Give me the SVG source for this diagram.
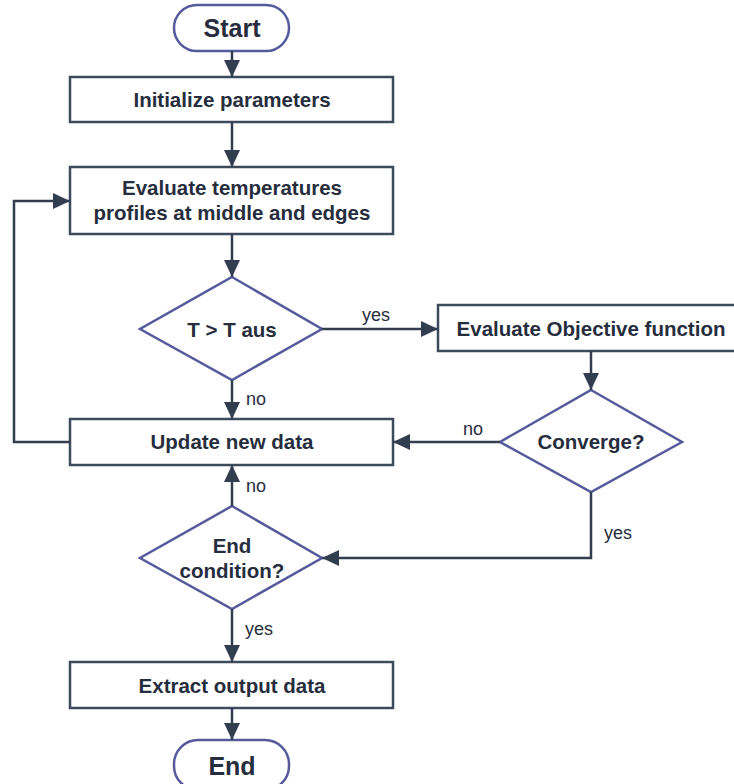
<svg xmlns="http://www.w3.org/2000/svg" width="734" height="784" viewBox="0 0 734 784">
<style>
.box{fill:#fff;stroke:#3d4a5c;stroke-width:2.5}
.term{fill:#fff;stroke:#565a9c;stroke-width:2.5}
.dia{fill:#fff;stroke:#565a9c;stroke-width:2.5}
.t{font-family:"Liberation Sans",Arial,sans-serif;font-weight:bold;font-size:20.5px;fill:#262d3d;text-anchor:middle}
.big{font-size:25px}
.lbl{font-family:"Liberation Sans",Arial,sans-serif;font-size:18px;fill:#262d3d}
.c{fill:none;stroke:#323e50;stroke-width:2.5}
</style>
<defs>
<marker id="ah" markerUnits="userSpaceOnUse" markerWidth="18" markerHeight="16" refX="17" refY="8" orient="auto">
<path d="M0,0 L17,8 L0,16 Z" fill="#323e50"/>
</marker>
</defs>
<g id="start"><rect class="term" x="174" y="5" width="115" height="46" rx="23"/><text class="t big" x="232" y="37">Start</text></g>
<g id="init"><rect class="box" x="70" y="77" width="323" height="45"/><text class="t" x="232" y="107">Initialize parameters</text></g>
<g id="evaltemp"><rect class="box" x="70" y="167" width="323" height="67"/><text class="t" x="232" y="195">Evaluate  temperatures</text><text class="t" x="232" y="220">profiles at middle and edges</text></g>
<g id="tdec"><polygon class="dia" points="232,277 322,329 232,380 140,329"/><text class="t" x="232" y="337">T &gt; T aus</text></g>
<g id="evalobj"><rect class="box" x="438" y="305" width="306" height="46"/><text class="t" x="591" y="336">Evaluate Objective function</text></g>
<g id="conv"><polygon class="dia" points="591,390 682,442 591,492 500,442"/><text class="t" x="591" y="449">Converge?</text></g>
<g id="update"><rect class="box" x="70" y="419" width="323" height="46"/><text class="t" x="232" y="449">Update new data</text></g>
<g id="endcond"><polygon class="dia" points="232,506 322,558 232,609 140,558"/><text class="t" x="232" y="553">End</text><text class="t" x="232" y="578">condition?</text></g>
<g id="extract"><rect class="box" x="70" y="662" width="323" height="46"/><text class="t" x="232" y="693">Extract output data</text></g>
<g id="end"><rect class="term" x="174" y="740" width="115" height="50" rx="24"/><text class="t big" x="232" y="775">End</text></g>
<g id="connectors">
<line class="c" x1="232" y1="51" x2="232" y2="77" marker-end="url(#ah)"/>
<line class="c" x1="232" y1="122" x2="232" y2="167" marker-end="url(#ah)"/>
<line class="c" x1="232" y1="234" x2="232" y2="277" marker-end="url(#ah)"/>
<line class="c" x1="322" y1="329" x2="438" y2="329" marker-end="url(#ah)"/>
<line class="c" x1="232" y1="380" x2="232" y2="419" marker-end="url(#ah)"/>
<line class="c" x1="591" y1="351" x2="591" y2="390" marker-end="url(#ah)"/>
<line class="c" x1="500" y1="442" x2="393" y2="442" marker-end="url(#ah)"/>
<polyline class="c" points="70,442 14,442 14,201 70,201" marker-end="url(#ah)"/>
<line class="c" x1="232" y1="506" x2="232" y2="465" marker-end="url(#ah)"/>
<polyline class="c" points="591,492 591,558 322,558" marker-end="url(#ah)"/>
<line class="c" x1="232" y1="609" x2="232" y2="662" marker-end="url(#ah)"/>
<line class="c" x1="232" y1="708" x2="232" y2="740" marker-end="url(#ah)"/>
<text class="lbl" x="362" y="321">yes</text>
<text class="lbl" x="246" y="405">no</text>
<text class="lbl" x="463" y="435">no</text>
<text class="lbl" x="246" y="492">no</text>
<text class="lbl" x="604" y="539">yes</text>
<text class="lbl" x="245" y="635">yes</text>
</g>
</svg>
